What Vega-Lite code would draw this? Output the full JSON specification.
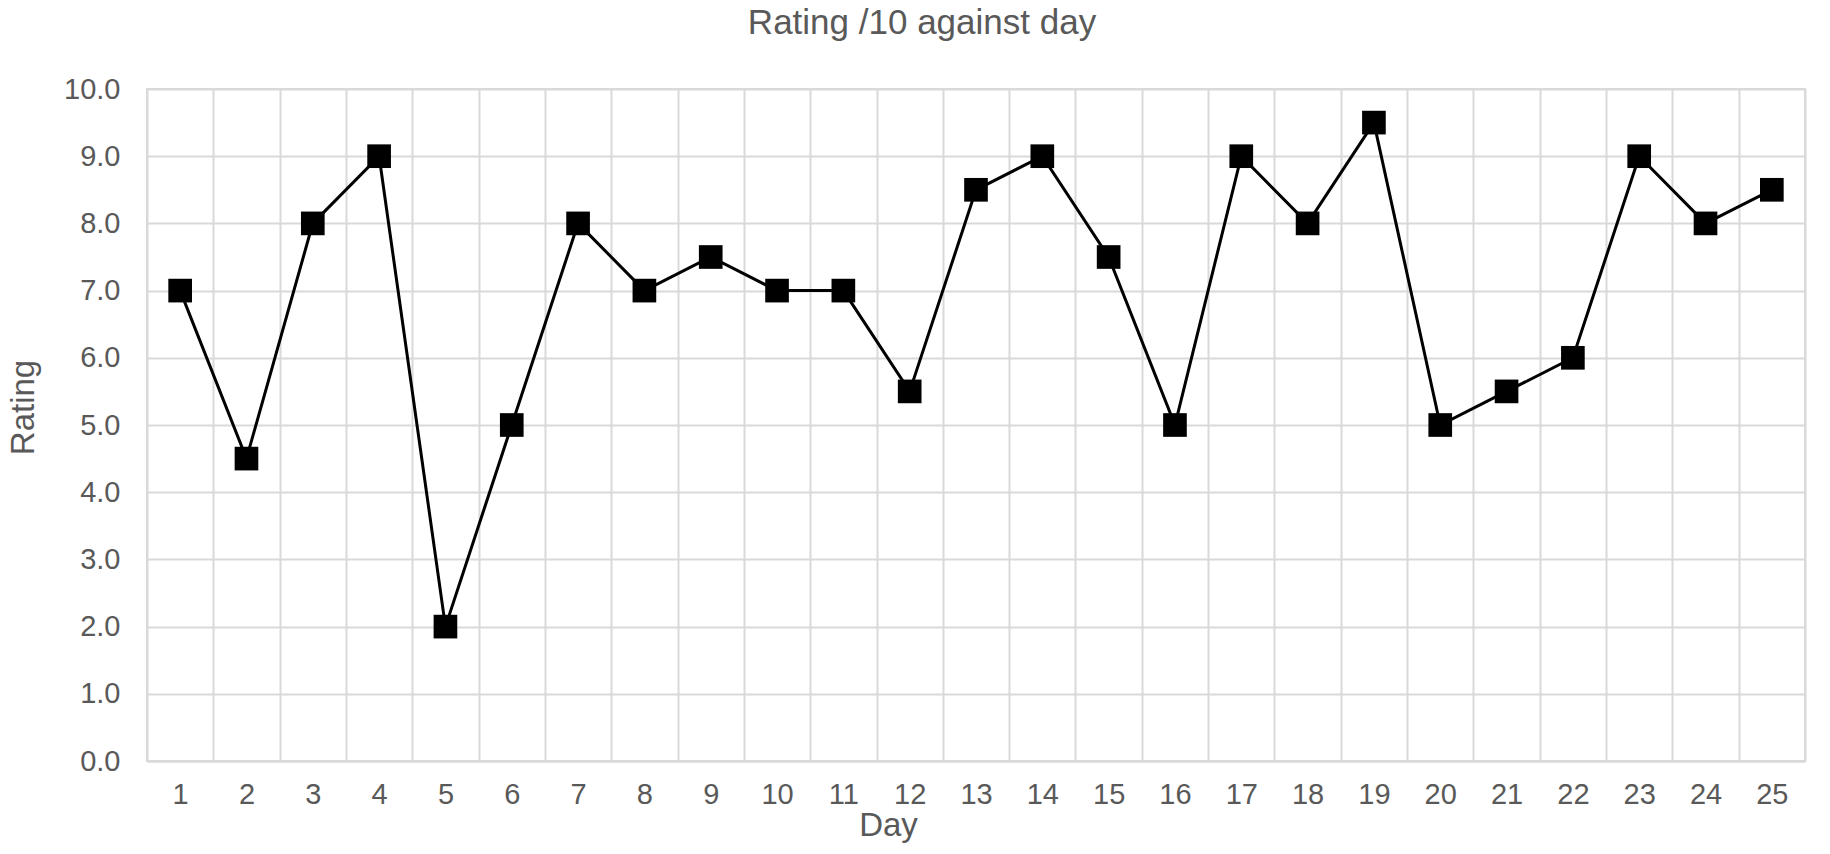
{
  "$schema": "https://vega.github.io/schema/vega-lite/v6.json",
  "width": 1658,
  "height": 672,
  "autosize": {"type": "none"},
  "padding": {"left": 147, "top": 89, "right": 25, "bottom": 93},
  "background": "white",
  "config": {
    "font": "Liberation Sans",
    "view": {"stroke": "#d9d9d9", "strokeWidth": 2}
  },
  "title": {
    "text": "Rating /10 against day",
    "fontSize": 35,
    "fontWeight": "normal",
    "color": "#595959",
    "baseline": "alphabetic",
    "offset": 6,
    "dx": -54
  },
  "data": {
    "values": [
      {"day": 1, "rating": 7},
      {"day": 2, "rating": 4.5},
      {"day": 3, "rating": 8},
      {"day": 4, "rating": 9},
      {"day": 5, "rating": 2},
      {"day": 6, "rating": 5},
      {"day": 7, "rating": 8},
      {"day": 8, "rating": 7},
      {"day": 9, "rating": 7.5},
      {"day": 10, "rating": 7},
      {"day": 11, "rating": 7},
      {"day": 12, "rating": 5.5},
      {"day": 13, "rating": 8.5},
      {"day": 14, "rating": 9},
      {"day": 15, "rating": 7.5},
      {"day": 16, "rating": 5},
      {"day": 17, "rating": 9},
      {"day": 18, "rating": 8},
      {"day": 19, "rating": 9.5},
      {"day": 20, "rating": 5},
      {"day": 21, "rating": 5.5},
      {"day": 22, "rating": 6},
      {"day": 23, "rating": 9},
      {"day": 24, "rating": 8},
      {"day": 25, "rating": 8.5}
    ]
  },
  "encoding": {
    "x": {
      "field": "day",
      "type": "ordinal",
      "title": "Day",
      "scale": {"type": "band", "paddingInner": 0, "paddingOuter": 0},
      "axis": {
        "labelAngle": 0,
        "labelFontSize": 29,
        "labelColor": "#595959",
        "labelBaseline": "alphabetic",
        "labelPadding": 42,
        "ticks": false,
        "tickSize": 0,
        "tickBand": "extent",
        "grid": true,
        "gridColor": "#d9d9d9",
        "gridWidth": 2,
        "domainColor": "#d9d9d9",
        "domainWidth": 2,
        "titleFontSize": 33,
        "titleFontWeight": "normal",
        "titleColor": "#595959",
        "titleBaseline": "alphabetic",
        "titleX": 741,
        "titleY": 74
      }
    },
    "y": {
      "field": "rating",
      "type": "quantitative",
      "title": "Rating",
      "scale": {"domain": [0, 10], "nice": false},
      "axis": {
        "values": [0, 1, 2, 3, 4, 5, 6, 7, 8, 9, 10],
        "format": ".1f",
        "labelFontSize": 29,
        "labelColor": "#595959",
        "labelPadding": 27,
        "ticks": false,
        "tickSize": 0,
        "domain": false,
        "gridColor": "#d9d9d9",
        "gridWidth": 2,
        "titleFontSize": 33,
        "titleFontWeight": "normal",
        "titleColor": "#595959",
        "titleAngle": 270,
        "titleBaseline": "alphabetic",
        "titleX": -114,
        "titleY": 318
      }
    }
  },
  "layer": [
    {"mark": {"type": "line", "color": "black", "strokeWidth": 3}},
    {"mark": {"type": "square", "color": "black", "size": 560, "opacity": 1, "filled": true}}
  ]
}
